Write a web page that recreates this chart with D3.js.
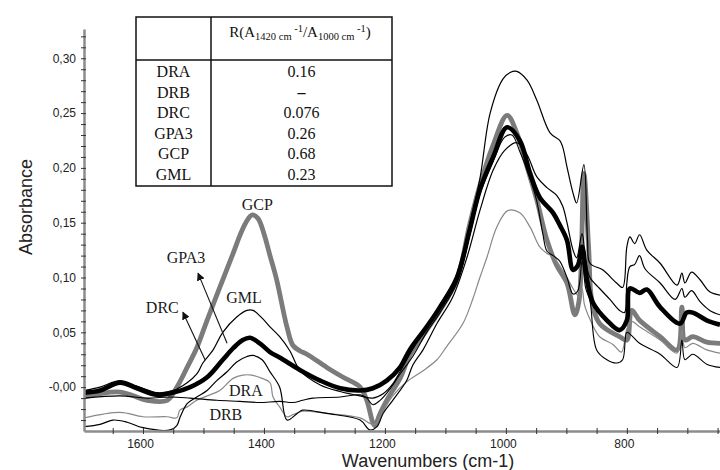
<!DOCTYPE html>
<html><head><meta charset="utf-8">
<script src="https://cdn.jsdelivr.net/npm/d3@7"></script>
<style>body{margin:0;background:#fff}svg{display:block}</style>
</head><body>
<svg id="c" width="720" height="470"></svg>
<script>
// ---- data: [wavenumber (cm-1), absorbance] ----
const GCP = [[1697,-.009],[1638,-.0045],[1593,-.012],[1560,-.012],[1544,0],[1527,.018],[1511,.036],[1494,.061],[1473,.091],[1451,.122],[1440,.138],[1430,.150],[1420,.157],[1410,.154],[1400,.140],[1390,.120],[1379,.098],[1362,.055],[1352,.038],[1340,.033],[1329,.030],[1296,.018],[1269,.009],[1241,0],[1230,-.012],[1217,-.035],[1208,-.024],[1197,-.012],[1175,.008],[1159,.029],[1131,.052],[1109,.070],[1081,.098],[1060,.148],[1043,.184],[1021,.221],[998,.248],[982,.232],[965,.201],[949,.171],[932,.134],[916,.111],[899,.095],[886,.066],[879,.079],[871,.195],[863,.125],[858,.079],[845,.058],[812,.046],[800,.043],[792,.070],[779,.061],[745,.046],[717,.034],[709,.073],[704,.043],[691,.046],[668,.041],[646,.040]];
const GPA3 = [[1697,-.005],[1671,-.003],[1638,.004],[1610,-.001],[1577,-.007],[1550,-.005],[1522,0],[1494,.009],[1468,.025],[1450,.036],[1435,.043],[1423,.045],[1407,.040],[1390,.032],[1374,.027],[1340,.0155],[1307,.006],[1274,-.001],[1241,-.003],[1220,-.001],[1197,.006],[1175,.018],[1159,.034],[1131,.055],[1109,.073],[1081,.100],[1060,.143],[1043,.180],[1021,.210],[998,.237],[977,.225],[960,.195],[944,.173],[922,.159],[911,.148],[899,.134],[889,.107],[881,.111],[874,.128],[866,.098],[856,.077],[833,.061],[812,.052],[800,.061],[795,.090],[779,.086],[767,.089],[745,.073],[712,.058],[701,.068],[691,.068],[668,.061],[646,.057]];
const GML = [[1697,-.003],[1671,0],[1638,.006],[1610,.001],[1577,-.005],[1550,-.003],[1527,.004],[1511,.012],[1501,.022],[1484,.034],[1468,.050],[1445,.064],[1428,.070],[1418,.070],[1403,.063],[1390,.055],[1374,.046],[1357,.033],[1340,.015],[1307,.002],[1274,-.004],[1241,-.008],[1220,-.010],[1203,-.006],[1187,.003],[1175,.014],[1159,.030],[1131,.055],[1109,.075],[1081,.102],[1060,.148],[1043,.190],[1026,.250],[1005,.281],[993,.287],[982,.288],[965,.280],[949,.262],[927,.232],[911,.225],[906,.219],[899,.201],[889,.177],[883,.168],[871,.203],[865,.134],[861,.113],[840,.107],[817,.095],[807,.091],[800,.128],[795,.137],[787,.131],[779,.139],[767,.125],[745,.113],[717,.093],[709,.104],[704,.095],[693,.105],[679,.098],[663,.087],[646,.084]];
const DRC = [[1697,-.036],[1671,-.034],[1650,-.030],[1626,-.032],[1600,-.037],[1555,-.039],[1544,-.035],[1539,-.028],[1527,-.015],[1511,-.009],[1494,-.003],[1478,.006],[1461,.014],[1445,.023],[1428,.028],[1418,.029],[1403,.025],[1390,.014],[1374,0],[1362,-.030],[1345,-.024],[1336,-.021],[1296,-.024],[1241,-.030],[1225,-.039],[1213,-.036],[1203,-.024],[1187,-.012],[1164,.006],[1154,.020],[1137,.034],[1114,.058],[1088,.082],[1064,.119],[1043,.161],[1021,.198],[1002,.216],[982,.223],[965,.212],[949,.192],[932,.182],[916,.175],[906,.165],[899,.150],[889,.125],[883,.118],[874,.140],[868,.115],[861,.100],[845,.090],[828,.080],[812,.070],[804,.068],[800,.095],[795,.110],[787,.112],[779,.120],[770,.108],[745,.095],[720,.080],[709,.090],[704,.082],[693,.088],[679,.078],[663,.070],[646,.066]];
const DRA = [[1697,-.028],[1638,-.023],[1600,-.027],[1560,-.027],[1544,-.028],[1539,-.021],[1527,-.018],[1511,-.012],[1494,-.008],[1473,-.003],[1451,.008],[1435,.011],[1420,.011],[1403,.008],[1390,.004],[1385,-.009],[1374,-.018],[1362,-.027],[1352,-.025],[1336,-.022],[1296,-.024],[1241,-.028],[1225,-.033],[1217,-.034],[1203,-.022],[1187,-.008],[1164,.005],[1137,.015],[1114,.025],[1098,.037],[1071,.058],[1055,.080],[1043,.100],[1031,.119],[1015,.146],[997,.161],[977,.159],[960,.146],[944,.128],[932,.122],[922,.119],[899,.100],[889,.090],[878,.082],[874,.090],[870,.075],[861,.062],[845,.046],[823,.039],[809,.032],[800,.053],[792,.060],[779,.055],[745,.043],[717,.031],[709,.052],[704,.036],[691,.040],[668,.034],[646,.031]];
const DRB = [[1697,-.010],[1638,-.008],[1593,-.010],[1555,-.009],[1522,-.010],[1478,-.012],[1440,-.013],[1407,-.014],[1374,-.013],[1352,-.014],[1336,-.012],[1319,-.010],[1274,-.009],[1241,-.007],[1230,-.010],[1220,-.016],[1208,-.012],[1192,-.002],[1175,.012],[1154,.028],[1131,.050],[1109,.068],[1081,.095],[1060,.138],[1043,.176],[1021,.206],[1002,.228],[990,.230],[977,.215],[960,.190],[949,.170],[939,.140],[932,.124],[922,.120],[911,.115],[899,.100],[889,.085],[881,.088],[874,.115],[868,.090],[861,.079],[850,.034],[833,.025],[817,.022],[807,.025],[800,.050],[792,.047],[779,.040],[745,.030],[717,.018],[709,.043],[704,.025],[691,.030],[668,.021],[646,.018]];

const tableNames = ["DRA","DRB","DRC","GPA3","GCP","GML"];
const tableRatios = ["0.16","\u2013","0.076","0.26","0.68","0.23"];

const xTicksAll = [1650,1600,1550,1500,1450,1400,1350,1300,1250,1200,1150,1100,1050,1000,950,900,850,800,750,700,650];
const xTickLabels = [1600,1400,1200,1000,800];
const yTicksAll = [-0.03,-0.02,-0.01,0,0.01,0.02,0.03,0.04,0.05,0.06,0.07,0.08,0.09,0.10,0.11,0.12,0.13,0.14,0.15,0.16,0.17,0.18,0.19,0.20,0.21,0.22,0.23,0.24,0.25,0.26,0.27,0.28,0.29,0.30,0.31,0.32];
const yMajor = [0,0.05,0.10,0.15,0.20,0.25,0.30];
const yTickLabels = ["-0,00","0,05","0,10","0,15","0,20","0,25","0,30"];

// curve labels: [text, wavenumber, absorbance(baseline)]
const curveLabels = [["GCP",1411,0.1615],["GPA3",1529,0.113],["GML",1433,0.0766],["DRC",1568,0.0675],["DRA",1430,-0.008],["DRB",1463,-0.030]];
// arrows: [from wn, from abs, to wn, to abs]
const arrows = [[1461,0.040,1509,0.104],[1497,0.0246,1534,0.0684]];

// ---- chart ----
const svg = d3.select("#c");
const x = d3.scaleLinear().domain([1697.5, 646]).range([84, 720]);
const y = d3.scaleLinear().domain([-0.04, 0.3267]).range([431, 29]);
const SANS = "'Liberation Sans', Arial, sans-serif";
const SERIF = "'Liberation Serif', 'Times New Roman', serif";

svg.append("defs").append("clipPath").attr("id","clip")
  .append("rect").attr("x",84).attr("y",29).attr("width",636).attr("height",402);
svg.select("defs").append("marker").attr("id","ah").attr("viewBox","0 0 10 10")
  .attr("refX",9).attr("refY",5).attr("markerWidth",8).attr("markerHeight",8)
  .attr("markerUnits","userSpaceOnUse").attr("orient","auto")
  .append("path").attr("d","M0,0L10,5L0,10Z").attr("fill","#111");

const line = d3.line().x(d => x(d[0])).y(d => y(d[1])).curve(d3.curveCatmullRom.alpha(0.5));
const plot = svg.append("g").attr("clip-path","url(#clip)");
const seriesStyles = [
  {d: GCP, c: "#7b7b7b", w: 4.8},
  {d: GPA3, c: "#000", w: 4.6},
  {d: DRA, c: "#888", w: 1.2},
  {d: DRB, c: "#000", w: 1.1},
  {d: DRC, c: "#000", w: 1.2},
  {d: GML, c: "#000", w: 1.2}
];
seriesStyles.forEach(s => {
  plot.append("path").datum(s.d).attr("d", line).attr("fill","none")
    .attr("stroke", s.c).attr("stroke-width", s.w).attr("stroke-linejoin","round");
});

// axes
const xAxis = svg.append("g").attr("transform","translate(0,431)")
  .call(d3.axisBottom(x).tickValues(xTicksAll).tickSizeInner(3).tickSizeOuter(0).tickPadding(5)
    .tickFormat(d => xTickLabels.includes(d) ? String(d) : ""));
xAxis.select(".domain").attr("stroke","#8c8c8c").attr("stroke-width",2.5);
xAxis.selectAll(".tick line").attr("y1",-3).attr("stroke","#333");
xAxis.selectAll(".tick text").attr("font-family",SANS).attr("font-size",12).attr("fill","#222").attr("dx",-3);

const yAxis = svg.append("g").attr("transform","translate(84,0)")
  .call(d3.axisLeft(y).tickValues(yTicksAll).tickSizeInner(3).tickSizeOuter(0).tickPadding(5)
    .tickFormat(d => { const i = yMajor.findIndex(v => Math.abs(v-d) < 1e-9); return i >= 0 ? yTickLabels[i] : ""; }));
yAxis.select(".domain").attr("stroke","#8c8c8c").attr("stroke-width",2.5);
yAxis.selectAll(".tick line").attr("x1",2).attr("stroke","#333");
yAxis.selectAll(".tick text").attr("font-family",SANS).attr("font-size",12).attr("fill","#222");

svg.append("text").attr("x",428).attr("y",467).attr("text-anchor","middle")
  .attr("font-family",SANS).attr("font-size",18).attr("fill","#222").text("Wavenumbers (cm-1)");
svg.append("text").attr("transform","translate(32,207) rotate(-90)").attr("text-anchor","middle")
  .attr("font-family",SANS).attr("font-size",18).attr("fill","#222").text("Absorbance");

// curve labels & arrows
curveLabels.forEach(l => {
  svg.append("text").attr("x", x(l[1])).attr("y", y(l[2])).attr("text-anchor","middle")
    .attr("font-family",SERIF).attr("font-size",16).attr("fill","#1a1a1a").text(l[0]);
});
arrows.forEach(a => {
  svg.append("line").attr("x1",x(a[0])).attr("y1",y(a[1])).attr("x2",x(a[2])).attr("y2",y(a[3]))
    .attr("stroke","#111").attr("stroke-width",1.1).attr("marker-end","url(#ah)");
});

// table
const T = svg.append("g");
T.append("rect").attr("x",136).attr("y",17).attr("width",256).attr("height",169)
  .attr("fill","#fff").attr("stroke","#111").attr("stroke-width",1.5);
T.append("line").attr("x1",136).attr("x2",392).attr("y1",60).attr("y2",60).attr("stroke","#111").attr("stroke-width",1.5);
T.append("line").attr("x1",211).attr("x2",211).attr("y1",17).attr("y2",186).attr("stroke","#111").attr("stroke-width",1.5);
const hdr = T.append("text").attr("x",300).attr("y",37).attr("text-anchor","middle")
  .attr("font-family",SERIF).attr("font-size",15).attr("fill","#111");
hdr.append("tspan").text("R(A");
hdr.append("tspan").attr("font-size",10.5).attr("dy",3).text("1420 cm");
hdr.append("tspan").attr("font-size",10.5).attr("dy",-8).text(" -1");
hdr.append("tspan").attr("dy",5).text("/A");
hdr.append("tspan").attr("font-size",10.5).attr("dy",3).text("1000 cm");
hdr.append("tspan").attr("font-size",10.5).attr("dy",-8).text(" -1");
hdr.append("tspan").attr("dy",5).text(")");
tableNames.forEach((n,i) => {
  T.append("text").attr("x",173.5).attr("y",77 + i*20.6).attr("text-anchor","middle")
    .attr("font-family",SERIF).attr("font-size",16).attr("fill","#111").text(n);
  T.append("text").attr("x",301.5).attr("y",77 + i*20.6).attr("text-anchor","middle")
    .attr("font-family",SERIF).attr("font-size",16).attr("fill","#111")
    .attr("font-weight", tableRatios[i] === "\u2013" ? "bold" : "normal").text(tableRatios[i]);
});
</script>
</body></html>
